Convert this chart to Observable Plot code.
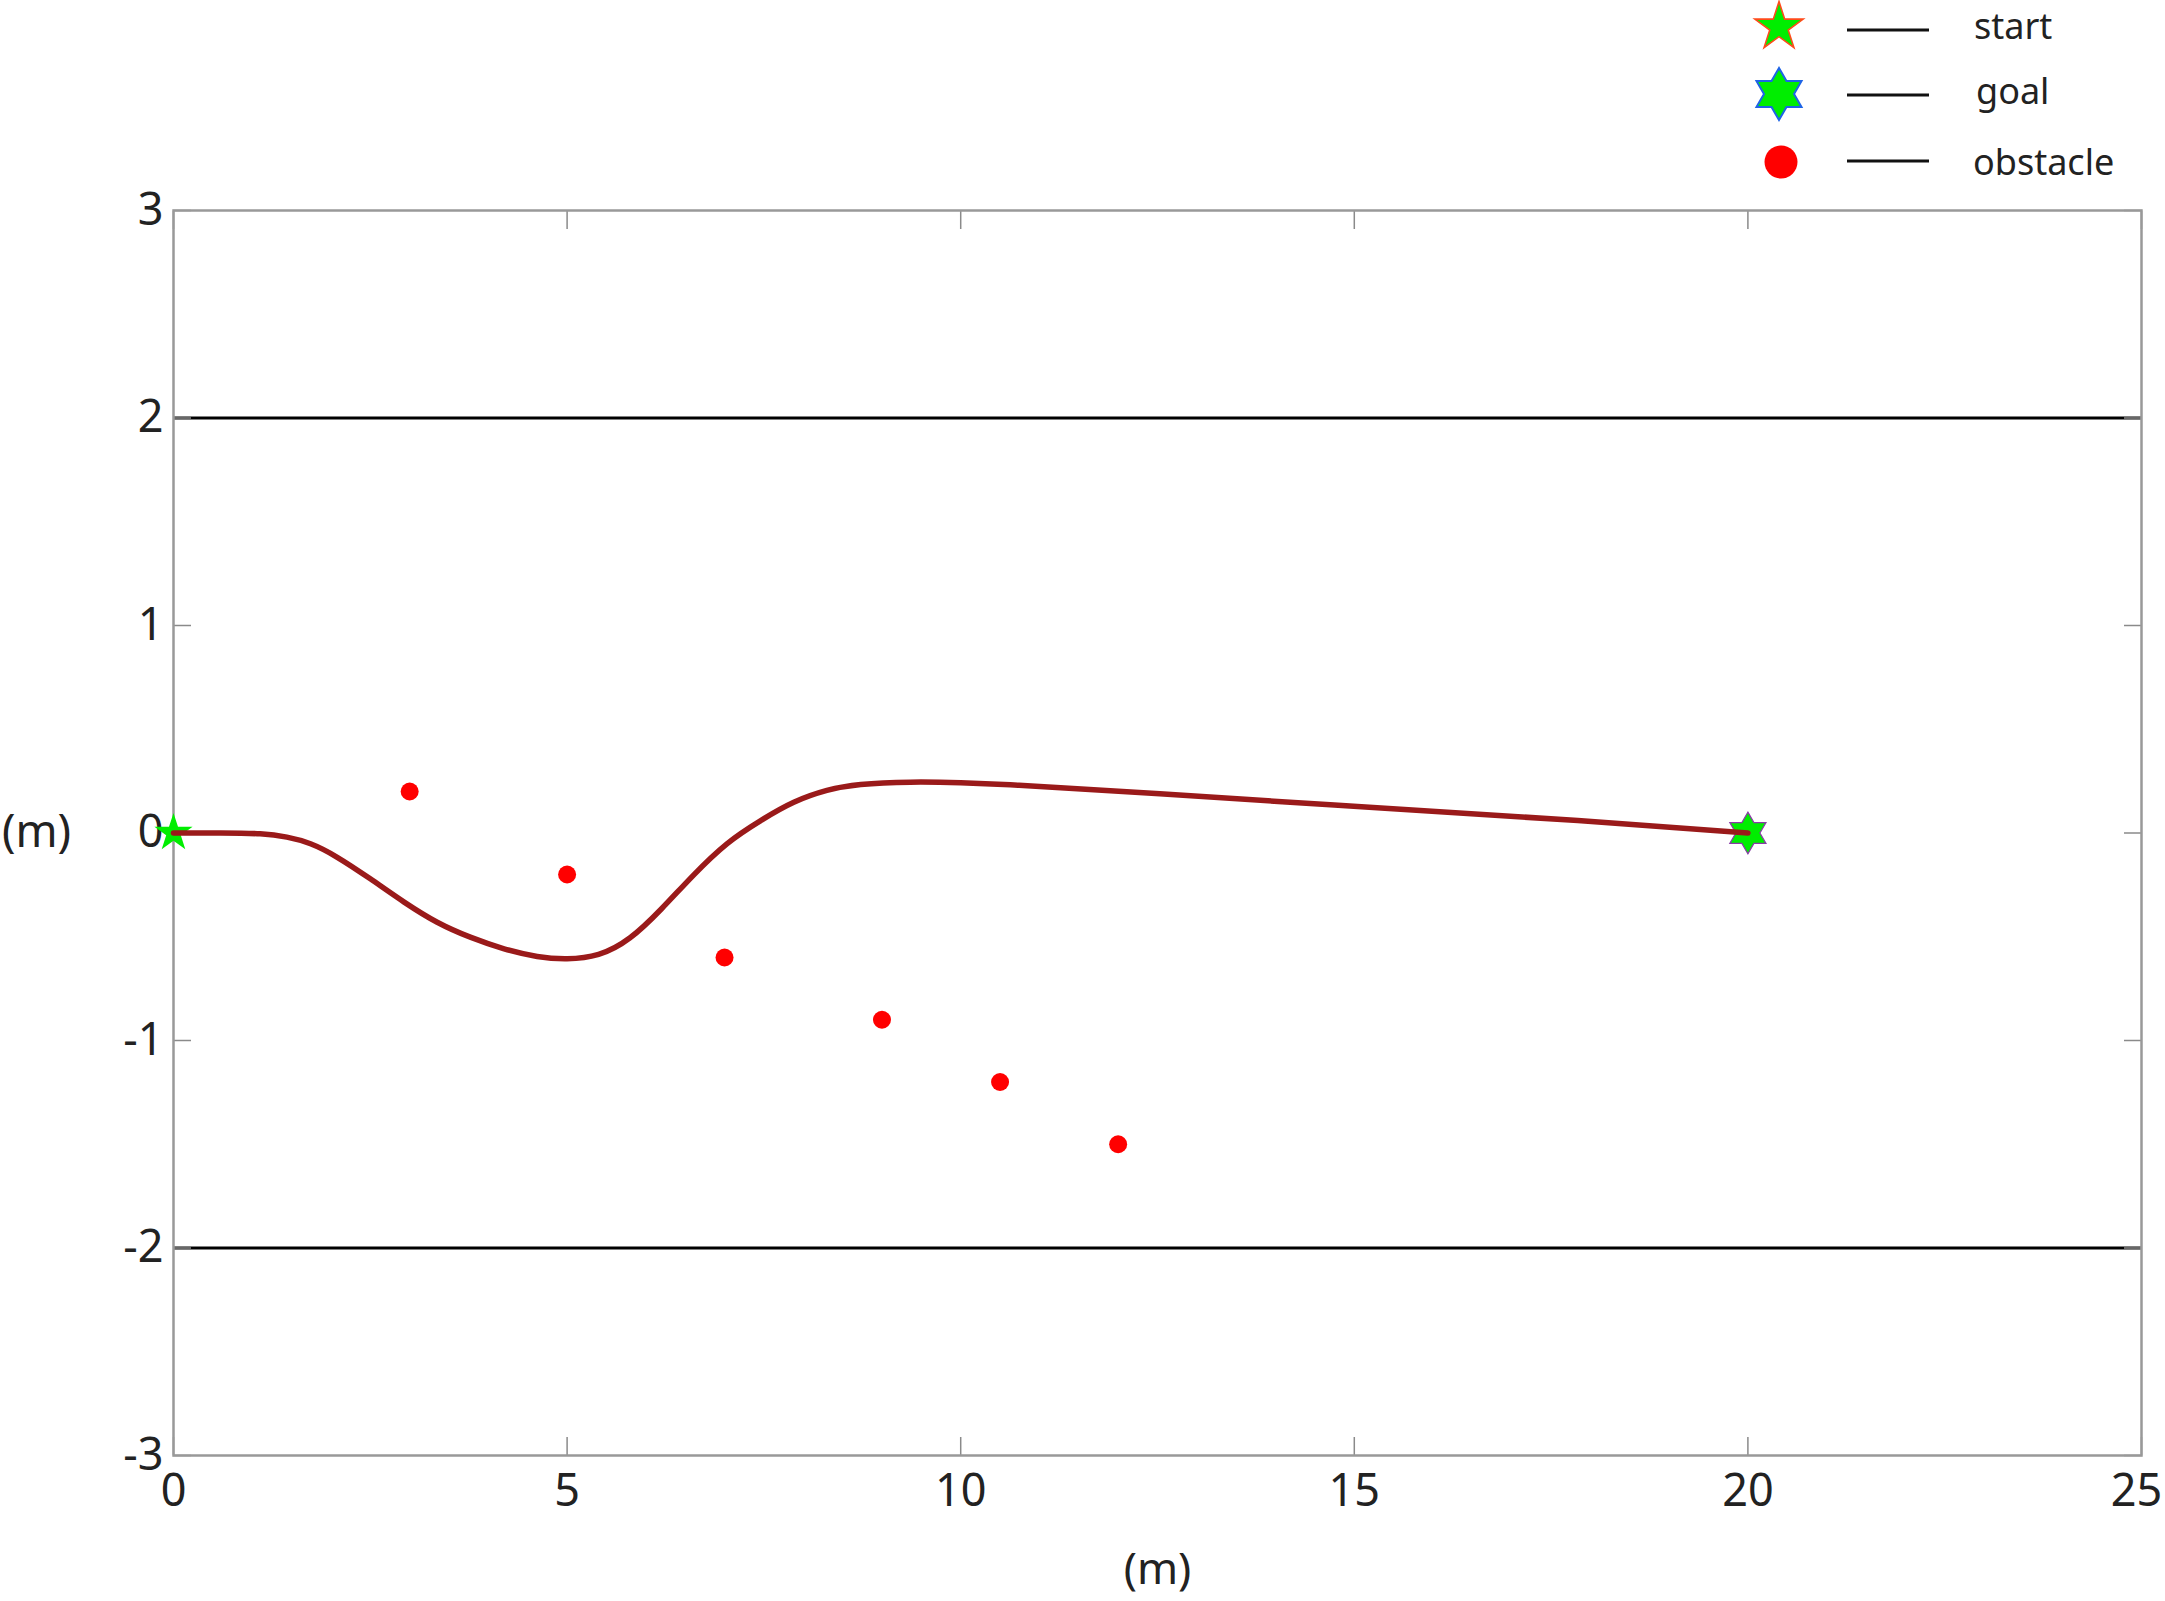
<!DOCTYPE html>
<html><head><meta charset="utf-8">
<script src="https://cdn.jsdelivr.net/npm/d3@7"></script>
<script src="https://cdn.jsdelivr.net/npm/@observablehq/plot@0.6"></script>
<style>
html,body{margin:0;padding:0;background:#fff;}
#wrap{position:relative;width:2165px;height:1601px;overflow:hidden;}
#chart{position:absolute;left:0;top:0;}
#legend{position:absolute;left:0;top:0;pointer-events:none;}
</style></head>
<body><div id="wrap"><div id="chart"></div><svg id="legend" width="2165" height="200"></svg></div>
<script>
// ---- data ----
const pathX = [0, 0.6, 1.1, 1.44, 1.74, 2.08, 2.5, 2.93, 3.35, 3.77, 4.2, 4.62, 5.0, 5.4, 5.8, 6.2, 6.6, 7.03, 7.46, 7.88, 8.3, 8.73, 9.36, 10.0, 10.63, 11.27, 12.53, 15.19, 17.84, 20.0];
const pathY = [0, 0, -0.004, -0.02, -0.052, -0.117, -0.221, -0.333, -0.43, -0.502, -0.558, -0.595, -0.606, -0.585, -0.505, -0.365, -0.205, -0.052, 0.06, 0.148, 0.205, 0.234, 0.245, 0.242, 0.232, 0.218, 0.189, 0.124, 0.06, 0.0];
const obstacleX = [3, 5, 7, 9, 10.5, 12];
const obstacleY = [0.2, -0.2, -0.6, -0.9, -1.2, -1.5];
const startX = [0], startY = [0];
const goalX = [20], goalY = [0];
const laneBounds = [2, -2];
const xTicks = [0, 5, 10, 15, 20, 25];
const yTicks = [-3, -2, -1, 0, 1, 2, 3];
const legendLabels = ["start", "goal", "obstacle"];
const axisLabelX = "(m)", axisLabelY = "(m)";

// ---- build ----
const path = pathX.map((x, i) => ({x, y: pathY[i]}));
const obstacles = obstacleX.map((x, i) => ({x, y: obstacleY[i]}));
const starts = startX.map((x, i) => ({x, y: startY[i]}));
const goals = goalX.map((x, i) => ({x, y: goalY[i]}));
const xTicksInner = xTicks.slice(0, -1);
const xTickLast = xTicks.slice(-1);

const hexagram = {
  draw(context, size) {
    const R = Math.sqrt(size / Math.PI) * 1.67, r = R / Math.sqrt(3);
    for (let i = 0; i < 12; i++) {
      const a = -Math.PI / 2 + i * Math.PI / 6, rr = i % 2 ? r : R;
      const px = rr * Math.cos(a), py = rr * Math.sin(a);
      if (i) context.lineTo(px, py); else context.moveTo(px, py);
    }
    context.closePath();
  }
};

const font = "'Noto Sans', 'Liberation Sans', sans-serif";
const tickStroke = "#8a8a8a";
const green = "#00ee00";
const fmt = d => `${d}`;

const chart = Plot.plot({
  width: 2165, height: 1601,
  marginLeft: 173, marginRight: 24, marginTop: 210, marginBottom: 146,
  x: {domain: [0, 25]},
  y: {domain: [-3, 3]},
  style: {fontFamily: font, fontSize: "45px", color: "#222", background: "white"},
  marks: [
    Plot.ruleY(laneBounds, {stroke: "#000", strokeWidth: 3}),
    Plot.axisX(xTicks, {anchor: "bottom", tickSize: -18, fill: "none", stroke: tickStroke, strokeWidth: 1.5, label: null}),
    Plot.axisX(xTicks, {anchor: "top", tickSize: -18, fill: "none", stroke: tickStroke, strokeWidth: 1.5, label: null}),
    Plot.axisY(yTicks, {anchor: "left", tickSize: -18, fill: "none", stroke: tickStroke, strokeWidth: 1.5, label: null}),
    Plot.axisY(yTicks, {anchor: "right", tickSize: -18, fill: "none", stroke: tickStroke, strokeWidth: 1.5, label: null}),
    Plot.axisX(xTicksInner, {anchor: "bottom", tickSize: 0, tickPadding: 19, fill: "#222", label: null, fontSize: 45, tickFormat: fmt}),
    Plot.axisX(xTickLast, {anchor: "bottom", tickSize: 0, tickPadding: 19, dx: -5, fill: "#222", label: null, fontSize: 45, tickFormat: fmt}),
    Plot.axisY(yTicks, {anchor: "left", tickSize: 0, tickPadding: 10, fill: "#222", label: null, fontSize: 45, tickFormat: fmt}),
    Plot.frame({stroke: "#999", strokeWidth: 2.5}),
    Plot.dot(obstacles, {x: "x", y: "y", r: 9, fill: "#ff0000", stroke: null}),
    Plot.dot(starts, {x: "x", y: "y", symbol: "star", r: 12, fill: green, stroke: null}),
    Plot.dot(goals, {x: "x", y: "y", symbol: hexagram, r: 12.5, fill: green, stroke: "#8a3aa8", strokeWidth: 1.2}),
    Plot.line(path, {x: "x", y: "y", curve: "natural", stroke: "#9a1a1a", strokeWidth: 5.5}),
    Plot.text([axisLabelY], {frameAnchor: "left", dx: -137, textAnchor: "middle", fontSize: 45, fill: "#222"}),
    Plot.text([axisLabelX], {frameAnchor: "bottom", dy: 128, fontSize: 44, fill: "#222"})
  ]
});
document.getElementById("chart").appendChild(chart);

// ---- legend ----
const lg = d3.select("#legend");
const rows = [
  {cy: 27, ly: 30, ty: 39, tx: 1974, sym: "start"},
  {cy: 94, ly: 95, ty: 104, tx: 1976, sym: "goal"},
  {cy: 162, ly: 161, ty: 175, tx: 1973, sym: "obstacle"}
];
rows.forEach((row, i) => {
  if (row.sym === "start") {
    lg.append("path").attr("transform", `translate(1779,${row.cy})`)
      .attr("d", d3.symbol(d3.symbolStar, 25.4 * 25.4 / 0.8908)())
      .attr("fill", green).attr("stroke", "#ff4a1a").attr("stroke-width", 1.6);
  } else if (row.sym === "goal") {
    lg.append("path").attr("transform", `translate(1779,${row.cy})`)
      .attr("d", d3.symbol(hexagram, Math.PI * Math.pow(26 / 1.67, 2))())
      .attr("fill", green).attr("stroke", "#1e64e6").attr("stroke-width", 2);
  } else {
    lg.append("circle").attr("cx", 1781).attr("cy", row.cy).attr("r", 16.5).attr("fill", "#ff0000");
  }
  lg.append("line").attr("x1", 1847).attr("x2", 1929).attr("y1", row.ly).attr("y2", row.ly)
    .attr("stroke", "#111").attr("stroke-width", 3);
  lg.append("text").attr("x", row.tx).attr("y", row.ty).text(legendLabels[i])
    .attr("font-family", font).attr("font-size", 36).attr("fill", "#222");
});
</script>
</body></html>
